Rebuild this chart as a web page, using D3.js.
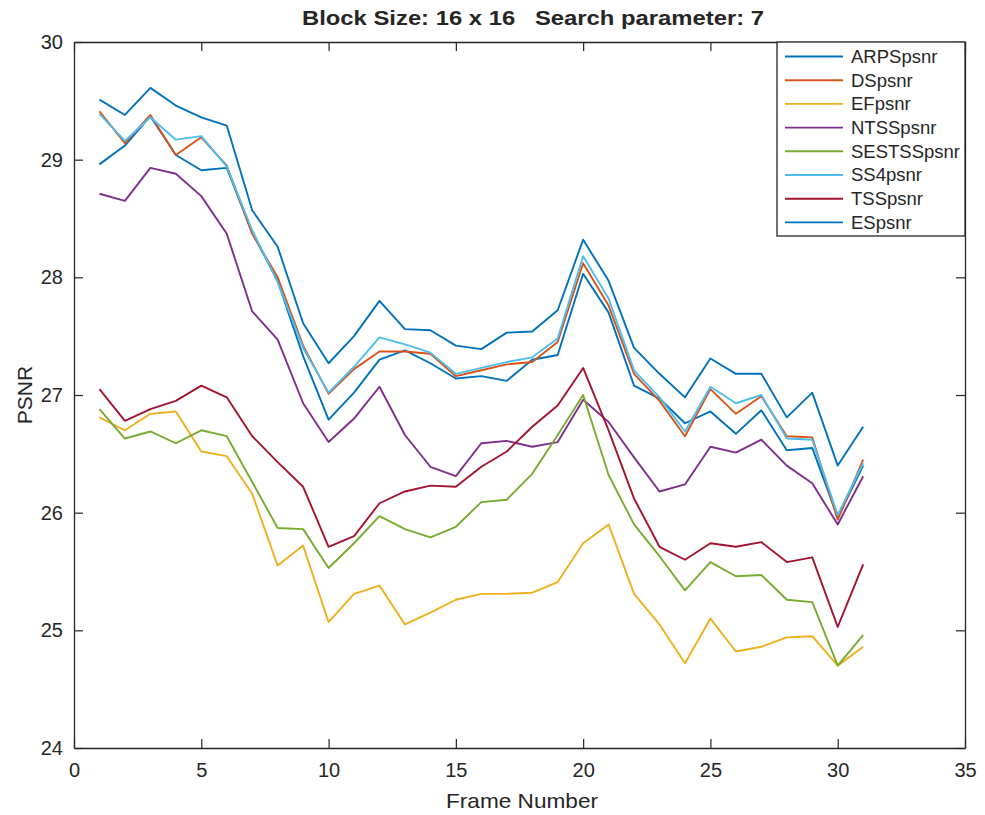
<!DOCTYPE html>
<html lang="en">
<head>
    <meta charset="UTF-8">
    <title>PSNR</title>
    <style type="text/css">
        html, body { padding:0; margin:0; background:#fff; }
        text { font-family: "Liberation Sans", Arial, sans-serif; fill:#262626; }
    </style>
</head>
<body>
<script src="https://d3js.org/d3.v7.min.js"></script>
<script type="text/javascript">
    var frames = d3.range(1, 32);

    var ARPSpsnr = [28.96, 29.12, 29.37, 29.04, 28.91, 28.93, 28.38, 27.97, 27.33, 26.79, 27.02, 27.30, 27.38, 27.27, 27.14, 27.16,
                    27.12, 27.30, 27.34, 28.03, 27.70, 27.08, 26.97, 26.76, 26.86, 26.67, 26.87, 26.53, 26.55, 25.96, 26.40];
    var DSpsnr = [29.41, 29.14, 29.38, 29.04, 29.19, 28.95, 28.37, 28.00, 27.42, 27.01, 27.22, 27.37, 27.37, 27.35, 27.16, 27.21,
                  27.26, 27.28, 27.45, 28.12, 27.76, 27.18, 26.95, 26.65, 27.05, 26.84, 26.99, 26.65, 26.64, 25.94, 26.45];
    var EFpsnr = [26.81, 26.70, 26.84, 26.86, 26.52, 26.48, 26.16, 25.55, 25.72, 25.07, 25.31, 25.38, 25.05, 25.15, 25.26, 25.31,
                  25.31, 25.32, 25.41, 25.74, 25.90, 25.31, 25.05, 24.72, 25.10, 24.82, 24.86, 24.94, 24.95, 24.70, 24.86];
    var NTSSpsnr = [28.71, 28.65, 28.93, 28.88, 28.69, 28.37, 27.71, 27.47, 26.93, 26.60, 26.80, 27.07, 26.66, 26.39, 26.31, 26.59,
                    26.61, 26.56, 26.60, 26.96, 26.77, 26.47, 26.18, 26.24, 26.56, 26.51, 26.62, 26.40, 26.25, 25.90, 26.31];
    var SESTSSpsnr = [26.88, 26.63, 26.69, 26.59, 26.70, 26.65, 26.26, 25.87, 25.86, 25.53, 25.74, 25.97, 25.86, 25.79, 25.88, 26.09,
                      26.11, 26.33, 26.66, 27.00, 26.32, 25.90, 25.63, 25.34, 25.58, 25.46, 25.47, 25.26, 25.24, 24.70, 24.96];
    var SS4psnr = [29.39, 29.16, 29.36, 29.17, 29.20, 28.94, 28.40, 27.96, 27.40, 27.02, 27.24, 27.49, 27.43, 27.36, 27.18, 27.23,
                   27.28, 27.32, 27.48, 28.18, 27.82, 27.21, 26.98, 26.69, 27.07, 26.93, 27.00, 26.63, 26.62, 25.98, 26.42];
    var TSSpsnr = [27.05, 26.78, 26.88, 26.95, 27.08, 26.98, 26.65, 26.43, 26.22, 25.71, 25.80, 26.08, 26.18, 26.23, 26.22, 26.39,
                   26.52, 26.73, 26.91, 27.23, 26.70, 26.12, 25.71, 25.60, 25.74, 25.71, 25.75, 25.58, 25.62, 25.03, 25.56];
    var ESpsnr = [29.51, 29.38, 29.61, 29.46, 29.36, 29.29, 28.57, 28.26, 27.61, 27.27, 27.50, 27.80, 27.56, 27.55, 27.42, 27.39,
                  27.53, 27.54, 27.72, 28.32, 27.97, 27.40, 27.18, 26.98, 27.31, 27.18, 27.18, 26.81, 27.02, 26.40, 26.73];

    var seriesNames = ['ARPSpsnr', 'DSpsnr', 'EFpsnr', 'NTSSpsnr', 'SESTSSpsnr', 'SS4psnr', 'TSSpsnr', 'ESpsnr'];
    var seriesValues = [ARPSpsnr, DSpsnr, EFpsnr, NTSSpsnr, SESTSSpsnr, SS4psnr, TSSpsnr, ESpsnr];
    var xTicks = [0, 5, 10, 15, 20, 25, 30, 35];
    var yTicks = [24, 25, 26, 27, 28, 29, 30];

    var colors = ['#0072BD', '#D95319', '#EDB120', '#7E2F8E', '#77AC30', '#4DBEEE', '#A2142F', '#0072BD'];

    var width = 985,
        height = 815,
        axLeft = 74, axRight = 965, axTop = 42, axBottom = 748,
        tick = 9;

    var svg = d3.select('body').append('svg')
        .attr('width', width)
        .attr('height', height);

    var xScale = d3.scaleLinear().domain([0, 35]).range([axLeft, axRight]);
    var yScale = d3.scaleLinear().domain([24, 30]).range([axBottom, axTop]);

    // axes, MATLAB style: box all round with inward ticks
    function styleAxis(g) {
        g.selectAll('path.domain').attr('stroke', '#262626').attr('stroke-width', 1.3);
        g.selectAll('.tick line').attr('stroke', '#262626').attr('stroke-width', 1.2);
        g.selectAll('.tick text')
            .attr('fill', '#404040')
            .style('font-family', '"Liberation Sans", Arial, sans-serif')
            .style('font-size', '20px');
    }

    svg.append('g')
        .attr('transform', 'translate(0,' + axBottom + ')')
        .call(d3.axisBottom(xScale).tickValues(xTicks).tickFormat(d3.format('d'))
            .tickSize(-tick).tickSizeOuter(0).tickPadding(15))
        .call(styleAxis);
    svg.append('g')
        .attr('transform', 'translate(0,' + axTop + ')')
        .call(d3.axisTop(xScale).tickValues(xTicks).tickSize(-tick).tickSizeOuter(0).tickFormat(''))
        .call(styleAxis);
    svg.append('g')
        .attr('transform', 'translate(' + axLeft + ',0)')
        .call(d3.axisLeft(yScale).tickValues(yTicks).tickFormat(d3.format('d'))
            .tickSize(-tick).tickSizeOuter(0).tickPadding(11))
        .call(styleAxis);
    svg.append('g')
        .attr('transform', 'translate(' + axRight + ',0)')
        .call(d3.axisRight(yScale).tickValues(yTicks).tickSize(-tick).tickSizeOuter(0).tickFormat(''))
        .call(styleAxis);

    var line = d3.line()
        .x(function(d, i) { return xScale(frames[i]); })
        .y(function(d) { return yScale(d); });

    svg.append('g')
        .selectAll('path.series')
        .data(seriesValues)
        .enter()
        .append('path')
        .attr('class', 'series')
        .attr('fill', 'none')
        .attr('stroke', function(d, i) { return colors[i]; })
        .attr('stroke-width', 1.9)
        .attr('stroke-linejoin', 'round')
        .attr('d', line);

    // labels
    svg.append('text')
        .attr('x', 522)
        .attr('y', 808)
        .attr('text-anchor', 'middle')
        .attr('textLength', 152)
        .attr('lengthAdjust', 'spacingAndGlyphs')
        .style('font-size', '21px')
        .text('Frame Number');

    svg.append('text')
        .attr('transform', 'translate(32,' + ((axTop + axBottom) / 2) + ') rotate(-90)')
        .attr('text-anchor', 'middle')
        .style('font-size', '21px')
        .text('PSNR');

    svg.append('text')
        .attr('x', 533)
        .attr('y', 25)
        .attr('text-anchor', 'middle')
        .attr('textLength', 462)
        .attr('lengthAdjust', 'spacingAndGlyphs')
        .attr('xml:space', 'preserve')
        .style('font-size', '21px')
        .style('font-weight', 'bold')
        .style('white-space', 'pre')
        .text('Block Size: 16 x 16   Search parameter: 7');

    // legend
    var legend = svg.append('g').attr('transform', 'translate(777,42)');
    legend.append('rect')
        .attr('width', 188)
        .attr('height', 194)
        .attr('fill', '#fff')
        .attr('stroke', '#262626')
        .attr('stroke-width', 1.3);

    var items = legend.selectAll('g.item')
        .data(seriesNames)
        .enter()
        .append('g')
        .attr('class', 'item')
        .attr('transform', function(d, i) { return 'translate(0,' + (14.5 + i * 23.7) + ')'; });
    items.append('line')
        .attr('x1', 8).attr('x2', 66)
        .attr('stroke', function(d, i) { return colors[i]; })
        .attr('stroke-width', 1.9);
    items.append('text')
        .attr('x', 74)
        .attr('dy', '0.35em')
        .style('font-size', '18.5px')
        .text(function(d) { return d; });
</script>
</body>
</html>
